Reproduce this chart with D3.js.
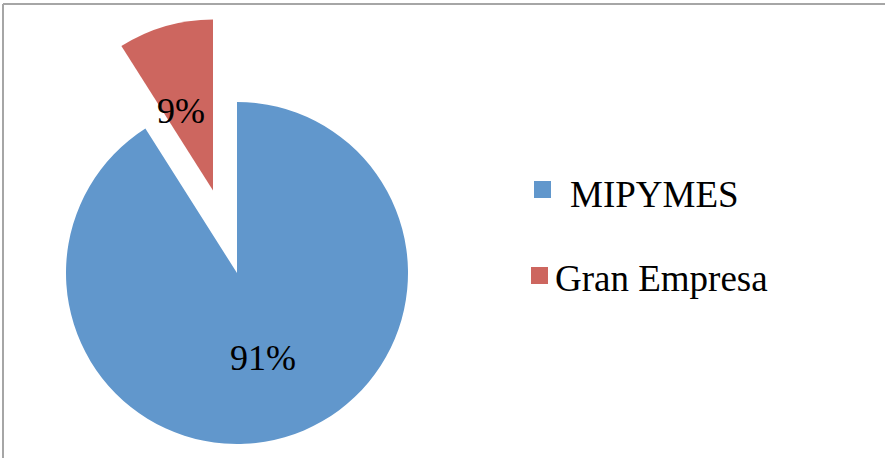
<!DOCTYPE html>
<html>
<head>
<meta charset="utf-8">
<script src="https://cdn.jsdelivr.net/npm/d3@7"></script>
<style>
  body { margin: 0; background: #fff; }
  svg { display: block; }
</style>
</head>
<body>
<div id="chart"></div>
<script>
// data
var categories = ["MIPYMES", "Gran Empresa"];
var values = [91, 9];
var labels = ["91%", "9%"];
var colors = ["#6197cc", "#cd665f"];

var width = 885, height = 458;
var cx = 237, cy = 273, radius = 171;
var explode = 86; // pulled-out distance for the small slice

var svg = d3.select("#chart")
    .append("svg")
    .attr("width", width)
    .attr("height", height);

// frame (only top and left edges visible in original)
svg.append("line").attr("x1", 3).attr("y1", 4).attr("x2", width).attr("y2", 4)
    .attr("stroke", "#a6a6a6").attr("stroke-width", 2);
svg.append("line").attr("x1", 3).attr("y1", 4).attr("x2", 3).attr("y2", height)
    .attr("stroke", "#a6a6a6").attr("stroke-width", 2);

var data = categories.map(function (c, i) {
    return { name: c, value: values[i], label: labels[i], color: colors[i] };
});

var pie = d3.pie().sort(null).value(function (d) { return d.value; });
var arcs = pie(data);
var arc = d3.arc().innerRadius(0).outerRadius(radius);

var g = svg.append("g").attr("transform", "translate(" + cx + "," + cy + ")");

function offset(d, i) {
    if (i !== 1) return [0, 0];
    var mid = (d.startAngle + d.endAngle) / 2;
    return [Math.sin(mid) * explode, -Math.cos(mid) * explode];
}

g.selectAll("path.slice")
    .data(arcs)
    .enter()
    .append("path")
    .attr("class", "slice")
    .attr("d", arc)
    .attr("fill", function (d) { return d.data.color; })
    .attr("transform", function (d, i) {
        return "translate(" + offset(d, i) + ")";
    });

// percent labels
var labelPos = [[26, 97], [-56, -150]];
g.selectAll("text.pct")
    .data(arcs)
    .enter()
    .append("text")
    .attr("class", "pct")
    .attr("x", function (d, i) { return labelPos[i][0]; })
    .attr("y", function (d, i) { return labelPos[i][1]; })
    .attr("text-anchor", "middle")
    .style("font-family", '"Liberation Serif", "Times New Roman", serif')
    .style("font-size", "36px")
    .style("fill", "#000")
    .text(function (d) { return d.data.label; });

// legend
var legendItems = [
    { sx: 534, sy: 181, tx: 570, ty: 207 },
    { sx: 531, sy: 267, tx: 555, ty: 291 }
];
var legend = svg.selectAll("g.legend")
    .data(data)
    .enter()
    .append("g")
    .attr("class", "legend");

legend.append("rect")
    .attr("x", function (d, i) { return legendItems[i].sx; })
    .attr("y", function (d, i) { return legendItems[i].sy; })
    .attr("width", 17)
    .attr("height", 17)
    .attr("fill", function (d) { return d.color; });

legend.append("text")
    .attr("x", function (d, i) { return legendItems[i].tx; })
    .attr("y", function (d, i) { return legendItems[i].ty; })
    .style("font-family", '"Liberation Serif", "Times New Roman", serif')
    .style("font-size", "37px")
    .style("fill", "#000")
    .text(function (d) { return d.name; });
</script>
</body>
</html>
